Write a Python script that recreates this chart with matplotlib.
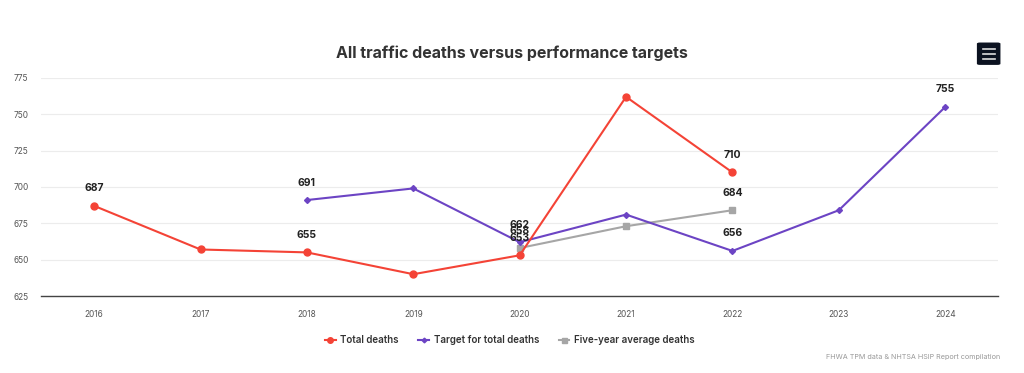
import numpy as np
import matplotlib.pyplot as plt
from matplotlib.patches import FancyBboxPatch

plt.rcParams['font.family'] = ['Inter', 'DejaVu Sans']

years = ['2016', '2017', '2018', '2019', '2020', '2021', '2022', '2023', '2024']
total_deaths = [687, 657, 655, 640, 653, 762, 710, None, None]
target_deaths = [None, None, 691, 699, 662, 681, 656, 684, 755]
five_year_avg = [None, None, None, None, 658, 673, 684, None, None]

# labels that are visible in the chart (others hidden by overlap)
total_shown = [0, 2, 4, 6]
target_shown = [2, 4, 6, 8]
avg_shown = [4, 6]

RED = '#f44336'
PURPLE = '#6c44c4'
GRAY = '#a6a6a6'


def to_arr(vals):
    return np.array([np.nan if v is None else v for v in vals], dtype=float)


fig = plt.figure(figsize=(10.24, 3.73), dpi=100)
ax = fig.add_axes([0.040, 0.2064, 0.935, 0.5847])

x = np.arange(len(years))
t = to_arr(total_deaths)
g = to_arr(target_deaths)
a = to_arr(five_year_avg)

ax.plot(x, a, color=GRAY, lw=1.5, marker='s', ms=4.5, label='Five-year average deaths', zorder=3)
ax.plot(x, g, color=PURPLE, lw=1.5, marker='D', ms=3, label='Target for total deaths', zorder=4)
ax.plot(x, t, color=RED, lw=1.5, marker='o', ms=5, label='Total deaths', zorder=5)


def add_labels(vals, shown):
    for i in shown:
        ax.annotate(str(int(vals[i])), (x[i], vals[i]), xytext=(0, 9), textcoords='offset points',
                    ha='center', va='bottom', fontsize=7.5, fontweight='bold', color='#222222', zorder=6)


add_labels(t, total_shown)
add_labels(g, target_shown)
add_labels(a, avg_shown)

ax.set_xlim(-0.5, len(years) - 0.5)
ax.set_ylim(625, 775)
ax.set_yticks(np.arange(625, 776, 25))
ax.set_xticks(x)
ax.set_xticklabels(years)
ax.tick_params(axis='both', length=0, labelsize=6, labelcolor='#555555')
ax.tick_params(axis='x', pad=10)
ax.tick_params(axis='y', pad=9)
ax.grid(axis='y', color='#ececec', lw=0.8)
ax.set_axisbelow(True)
for s in ['top', 'right', 'left']:
    ax.spines[s].set_visible(False)
ax.spines['bottom'].set_color('#444444')
ax.spines['bottom'].set_linewidth(1)

fig.text(0.5, 0.858, 'All traffic deaths versus performance targets', ha='center', va='center',
         fontsize=11.5, fontweight='bold', color='#333333')

handles, labels = ax.get_legend_handles_labels()
order = [2, 1, 0]
leg = fig.legend([handles[i] for i in order], [labels[i] for i in order], loc='center',
                 bbox_to_anchor=(0.498, 0.088), ncol=3, frameon=False, fontsize=7,
                 handlelength=1.1, columnspacing=2.0, handletextpad=0.5, markerscale=0.8)
for txt in leg.get_texts():
    txt.set_fontweight('semibold')
    txt.set_color('#333333')

fig.text(0.977, 0.042, 'FHWA TPM data & NHTSA HSIP Report compilation', ha='right', va='center',
         fontsize=5.2, color='#999999')

# menu button
btn = FancyBboxPatch((0.955, 0.827), 0.021, 0.058, boxstyle='round,pad=0.001,rounding_size=0.003',
                     transform=fig.transFigure, facecolor='#0b1220', edgecolor='none')
fig.patches.append(btn)
for dy in [0.843, 0.856, 0.869]:
    fig.add_artist(plt.Line2D([0.9595, 0.9715], [dy, dy], transform=fig.transFigure,
                              color='#dddddd', lw=1.2))

fig.savefig('out.png', dpi=100, facecolor='white')
